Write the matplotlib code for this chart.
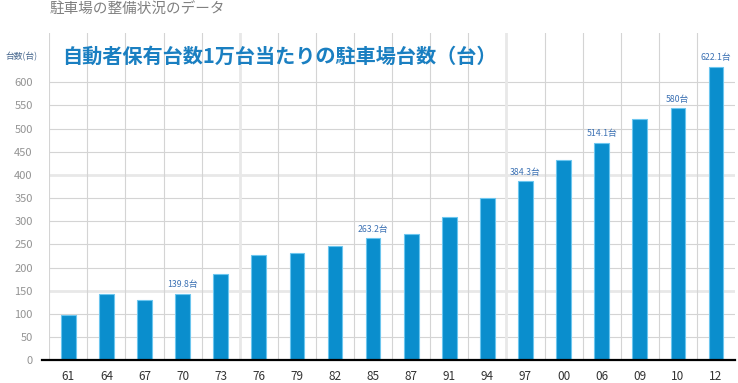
import matplotlib
matplotlib.use("Agg")
import matplotlib.pyplot as plt
import numpy as np

plt.rcParams["font.family"] = ["Noto Sans CJK JP", "DejaVu Sans"]

# data
years = ["61", "64", "67", "70", "73", "76", "79", "82", "85", "87",
         "91", "94", "97", "00", "06", "09", "10", "12"]
spaces = [98, 144, 130, 144, 186, 227, 232, 247, 263, 273,
          309, 350, 387, 432, 470, 520, 544, 634]
# labelled bars: index -> label text
label_idx = [3, 8, 12, 14, 16, 17]
label_txt = ["139.8台", "263.2台", "384.3台", "514.1台", "580台", "622.1台"]
yticks = list(range(0, 601, 50))

BAR = "#0a8ecd"
EDGE = "#6cc6ef"
GRID = "#d4d4d4"

W, H = 738, 383
fig = plt.figure(figsize=(W / 100, H / 100), dpi=100)
x0, x1 = 49.3, 735.0
y0, y1 = 360.3, 33.0
ax = fig.add_axes([x0 / W, (H - y0) / H, (x1 - x0) / W, (y0 - y1) / H])

n = len(years)
xs = np.arange(n)
ax.bar(xs, spaces, width=0.385, color=BAR, edgecolor=EDGE, linewidth=0.8,
       zorder=3)

ax.set_xlim(-0.5, n - 0.5)
ax.set_ylim(0, (y0 - y1) / 0.4633)

# grid
for yv in yticks[1:]:
    lw, c = (2.0, "#e8e8e8") if yv in (150, 400) else (0.8, GRID)
    ax.axhline(yv, color=c, lw=lw, zorder=1)
for k in range(n):
    lw, c = (2.0, "#e8e8e8") if k in (5, 12) else (0.8, GRID)
    ax.axvline(k - 0.5, color=c, lw=lw, zorder=1)

# zero line, reaching a bit left of the plot
ax.plot([-0.69, n - 0.5], [0, 0], color="black", lw=1.6, clip_on=False,
        zorder=4)

for s in ax.spines.values():
    s.set_visible(False)

ax.set_yticks(yticks)
ax.set_yticklabels([str(v) for v in yticks], fontsize=8, color="#939393")
ax.set_xticks(xs)
ax.set_xticklabels(years, fontsize=8.5, color="#333333")
ax.tick_params(axis="both", length=0)
ax.tick_params(axis="y", pad=12)
ax.tick_params(axis="x", pad=7)

for i, t in zip(label_idx, label_txt):
    ax.text(xs[i], spaces[i] + 9, t, ha="center", va="bottom", fontsize=6.3,
            color="#3d72b4", zorder=5)

fig.text(50 / W, 1 - 10 / H, "駐車場の整備状況のデータ", fontsize=10.5,
         color="#808080", ha="left", va="center")
fig.text(5 / W, 1 - 57 / H, "台数(台)", fontsize=6.3, color="#4a6a90",
         ha="left", va="center")
fig.text(62 / W, 1 - 56 / H, "自動者保有台数1万台当たりの駐車場台数（台）",
         fontsize=14.5, color="#1a7fc1", ha="left", va="center",
         fontweight="bold")

fig.savefig("out.png", dpi=100)
